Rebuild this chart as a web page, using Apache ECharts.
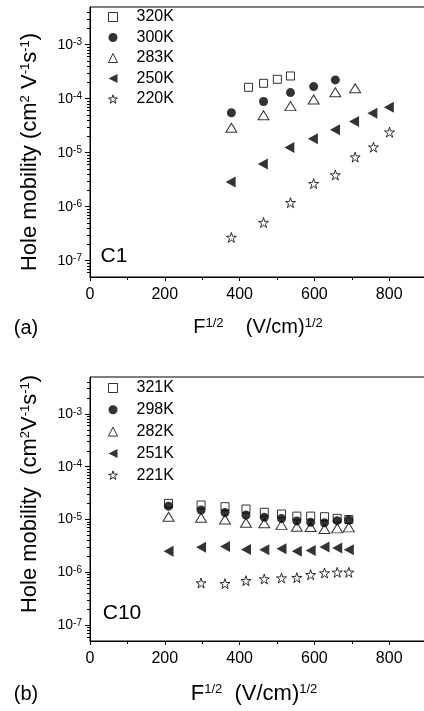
<!DOCTYPE html>
<html>
<head>
<meta charset="utf-8">
<script src="https://cdn.jsdelivr.net/npm/echarts@6/dist/echarts.min.js"></script>
<style>
  html, body { margin: 0; padding: 0; background: #fff; }
  #main { width: 424px; height: 711px; }
</style>
</head>
<body>
<div id="main"></div>
<script>
var FONT = '"Liberation Sans", Arial, Helvetica, sans-serif';

// (a) C1 : sqrt(field) vs hole mobility
var fieldC1_320 = [424, 464, 501, 536];
var muC1_320 = [1.63e-4, 1.93e-4, 2.29e-4, 2.64e-4];
var fieldC1_300 = [378, 464, 536, 598, 656];
var muC1_300 = [5.5e-5, 8.9e-5, 1.30e-4, 1.68e-4, 2.23e-4];
var fieldC1_283 = [378, 464, 536, 598, 656, 709];
var muC1_283 = [2.9e-5, 4.96e-5, 7.3e-5, 9.7e-5, 1.32e-4, 1.56e-4];
var fieldC1_250 = [376, 462, 533, 596, 655, 706, 755, 799];
var muC1_250 = [2.87e-6, 6.2e-6, 1.25e-5, 1.81e-5, 2.66e-5, 3.79e-5, 5.4e-5, 6.97e-5];
var fieldC1_220 = [378, 464, 536, 598, 656, 709, 758, 801];
var muC1_220 = [2.7e-7, 5.1e-7, 1.19e-6, 2.68e-6, 3.87e-6, 8.3e-6, 1.27e-5, 2.41e-5];

// (b) C10
var fieldC10 = [210, 297, 361, 417, 466, 512, 553, 590, 627, 661, 692];
var muC10_321 = [2.02e-5, 1.88e-5, 1.75e-5, 1.58e-5, 1.37e-5, 1.27e-5, 1.16e-5, 1.16e-5, 1.13e-5, 1.05e-5, 1.0e-5];
var muC10_298 = [1.79e-5, 1.51e-5, 1.36e-5, 1.22e-5, 1.10e-5, 1.04e-5, 9.4e-6, 8.85e-6, 8.7e-6, 9.5e-6, 9.8e-6];
var muC10_282 = [1.13e-5, 1.08e-5, 1.0e-5, 8.7e-6, 8.5e-6, 7.9e-6, 7.3e-6, 7.2e-6, 6.6e-6, 6.8e-6, 7.1e-6];
var muC10_251 = [2.51e-6, 2.99e-6, 3.08e-6, 2.7e-6, 2.66e-6, 2.78e-6, 2.51e-6, 2.59e-6, 3.03e-6, 2.9e-6, 2.66e-6];
var fieldC10_221 = [297, 361, 417, 466, 512, 553, 590, 627, 661, 692];
var muC10_221 = [6.27e-7, 6.09e-7, 6.94e-7, 7.46e-7, 7.79e-7, 7.91e-7, 9.0e-7, 9.7e-7, 1.0e-6, 1.0e-6];

var legendC1 = ['320K', '300K', '283K', '250K', '220K'];
var legendC10 = ['321K', '298K', '282K', '251K', '221K'];

var majorTicks = [1e-7, 1e-6, 1e-5, 1e-4, 1e-3];
var minorTicks = [];
for (var e = -8; e <= -3; e++) {
  for (var k = 2; k <= 9; k++) {
    var v = k * Math.pow(10, e);
    if (v > 5e-8 && v < 5e-3) minorTicks.push(v);
  }
}

function pts(xs, ys) {
  return xs.map(function (x, i) { return [x, ys[i]]; });
}

var STAR = 'path://M50 0L61.2 34.5L97.6 34.5L68.2 55.9L79.4 90.5L50 69.1L20.6 90.5L31.8 55.9L2.4 34.5L38.8 34.5Z';
var LEFT_TRI = 'path://M0 50L100 0L100 100Z';
var open = { color: '#fff', borderColor: '#000', borderWidth: 1 };
var solid = { color: '#000', borderWidth: 0 };

// symbol per temperature slot, same order in both panels
var symbols = ['rect', 'circle', 'triangle', LEFT_TRI, STAR];
var styles = [open, solid, open, solid, open];
var sizes = [8, 9, [11, 9], [10, 11], 10];

var grids = [
  { left: 90, top: 7, width: 374, height: 270 },
  { left: 90, top: 377, width: 374, height: 264 }
];

function xAx(g) {
  return {
    type: 'value', gridIndex: g, min: 0, max: 1000, interval: 200,
    axisLine: { lineStyle: { color: '#000', width: 1 } },
    axisTick: { length: 4, lineStyle: { color: '#000' } },
    minorTick: { show: true, splitNumber: 2, length: 3, lineStyle: { color: '#000' } },
    splitLine: { show: false },
    axisLabel: { color: '#000', fontSize: 16, fontFamily: FONT, margin: 10 }
  };
}

function yMajor(g) {
  return {
    type: 'log', logBase: 10, gridIndex: g, position: 'left', min: 5e-8, max: 5e-3,
    axisLine: { show: true, lineStyle: { color: '#000', width: 1 } },
    axisTick: { show: true, length: 5, customValues: majorTicks, lineStyle: { color: '#000' } },
    splitLine: { show: false },
    axisLabel: {
      customValues: majorTicks, margin: 8, color: '#000',
      fontSize: 14, fontFamily: FONT,
      formatter: function (val) {
        return '{b|10}{s|' + Math.round(Math.log10(val)) + '}';
      },
      rich: {
        b: { fontSize: 14, fontFamily: FONT, color: '#000' },
        s: { fontSize: 10, fontFamily: FONT, color: '#000', verticalAlign: 'top' }
      }
    }
  };
}

function yMinor(g) {
  return {
    type: 'log', logBase: 10, gridIndex: g, position: 'left', offset: 0, min: 5e-8, max: 5e-3,
    axisLine: { show: false },
    axisTick: { show: true, length: 3, customValues: minorTicks, lineStyle: { color: '#000' } },
    axisLabel: { show: false },
    splitLine: { show: false }
  };
}

function ser(name, g, slot, data, z) {
  return {
    name: name, type: 'scatter', xAxisIndex: g, yAxisIndex: g * 2,
    symbol: symbols[slot], symbolSize: sizes[slot],
    itemStyle: styles[slot], data: data, z: z || 2,
    emphasis: { disabled: true }
  };
}

function legendAt(names, top, gap) {
  return {
    data: names.map(function (n, i) {
      return { name: n, icon: symbols[i], itemStyle: styles[i] };
    }),
    orient: 'vertical', left: 108, top: top, padding: 0,
    itemWidth: 9, itemHeight: 9, itemGap: gap, selectedMode: false,
    textStyle: { fontSize: 16, fontFamily: FONT, color: '#000', padding: [0, 0, 0, 14] }
  };
}

function label(x, y, text, size, rot, supSize) {
  return {
    type: 'text', x: x, y: y, rotation: rot || 0,
    style: {
      text: text, fill: '#000', fontSize: size, fontFamily: FONT,
      align: 'center', verticalAlign: 'middle',
      rich: { s: { fontSize: supSize || 13, fontFamily: FONT, fill: '#000', verticalAlign: 'top' } }
    }
  };
}

var chart = echarts.init(document.getElementById('main'));
chart.setOption({
  animation: false,
  backgroundColor: '#fff',
  grid: grids.map(function (g) {
    return Object.assign({
      show: true, borderColor: '#000', borderWidth: 1, backgroundColor: 'transparent',
      containLabel: false, outerBoundsMode: 'none'
    }, g);
  }),
  xAxis: [xAx(0), xAx(1)],
  yAxis: [yMajor(0), yMinor(0), yMajor(1), yMinor(1)],
  legend: [legendAt(legendC1, 9, 4.5), legendAt(legendC10, 380, 5.8)],
  series: [
    ser('320K', 0, 0, pts(fieldC1_320, muC1_320)),
    ser('300K', 0, 1, pts(fieldC1_300, muC1_300), 3),
    ser('283K', 0, 2, pts(fieldC1_283, muC1_283)),
    ser('250K', 0, 3, pts(fieldC1_250, muC1_250)),
    ser('220K', 0, 4, pts(fieldC1_220, muC1_220)),
    ser('321K', 1, 0, pts(fieldC10, muC10_321)),
    ser('298K', 1, 1, pts(fieldC10, muC10_298), 3),
    ser('282K', 1, 2, pts(fieldC10, muC10_282)),
    ser('251K', 1, 3, pts(fieldC10, muC10_251)),
    ser('221K', 1, 4, pts(fieldC10_221, muC10_221))
  ],
  graphic: [
    label(30, 152, 'Hole mobility (cm{s|2} V{s|-1}s{s|-1})', 22, Math.PI / 2, 13),
    label(30, 494, 'Hole mobility  (cm{s|2}V{s|-1}s{s|-1})', 22, Math.PI / 2, 13),
    label(258, 327, 'F{s|1/2}    (V/cm){s|1/2}', 20, 0, 13),
    label(254, 694, 'F{s|1/2}  (V/cm){s|1/2}', 22, 0, 13),
    label(26, 328, '(a)', 20),
    label(26, 694, '(b)', 20),
    label(114, 256, 'C1', 21),
    label(122, 613, 'C10', 21)
  ]
});
</script>
</body>
</html>
